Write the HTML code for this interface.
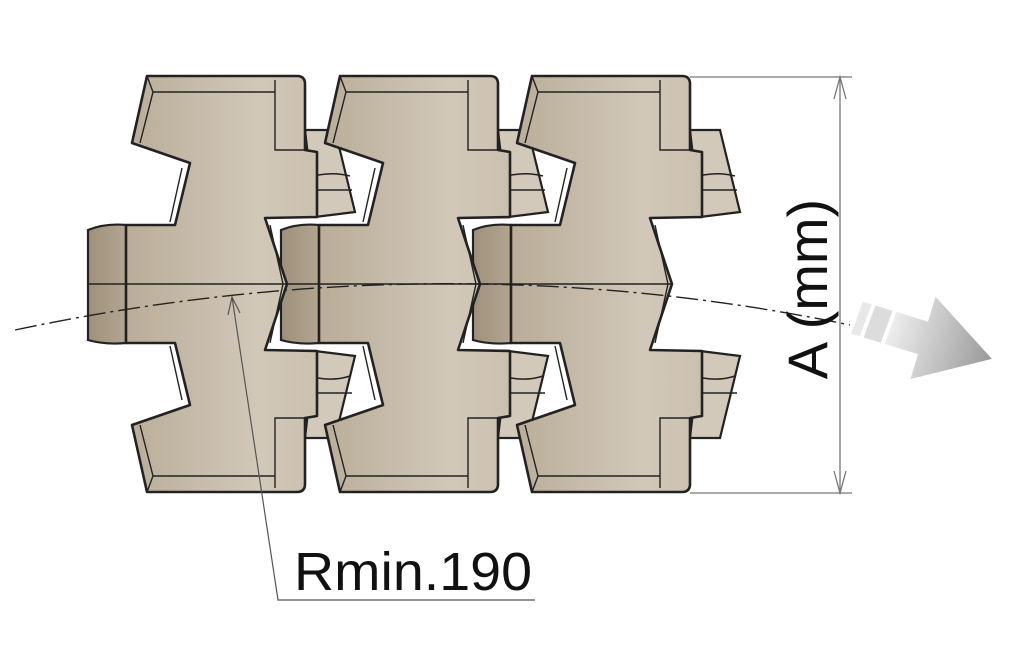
<!DOCTYPE html>
<html><head><meta charset="utf-8"><style>
html,body{margin:0;padding:0;background:#fff;width:1024px;height:653px;overflow:hidden}
</style></head><body>
<svg width="1024" height="653" viewBox="0 0 1024 653" xmlns="http://www.w3.org/2000/svg">
<defs>
<linearGradient id="g" x1="0" y1="0" x2="1" y2="0">
<stop offset="0" stop-color="#b9ad98"/><stop offset="0.7" stop-color="#d2c8b9"/><stop offset="1" stop-color="#cbc0ae"/>
</linearGradient>
<linearGradient id="sg" x1="0" y1="0" x2="1" y2="0">
<stop offset="0" stop-color="#9e907a"/><stop offset="1" stop-color="#b3a690"/>
</linearGradient>
<linearGradient id="ag" x1="0" y1="0" x2="1" y2="0">
<stop offset="0" stop-color="#eeeeee"/><stop offset="1" stop-color="#999"/>
</linearGradient>
<g id="stub">
<path d="M88,230 Q105,223 126,225 L126,343 Q105,345 88,340 Z" fill="url(#sg)" stroke="#222" stroke-width="2.2"/>
<line x1="88" y1="284" x2="126" y2="284" stroke="#222" stroke-width="1.5"/>
</g>
<g id="link">
<path d="M305,130 L335,130 L355,212 L315,217 Z M305,438 L335,438 L355,356 L315,351 Z" fill="#d3c9ba" stroke="#222" stroke-width="2.2"/>
<path d="M318,175 Q335,172 350,176 M318,190 L352,190 M318,393 L352,393 M318,378 Q335,381 350,376" fill="none" stroke="#222" stroke-width="1.5"/>
<path d="M147,76 L297,76 Q305,76 305,84 L305,150 L317,152 L317,217 L265,218 L287,284 L265,350 L317,351 L317,416 L305,418 L305,484 Q305,492 297,492 L147,492 L132,425 L190,405 L175,343 L126,343 L126,225 L175,225 L190,163 L132,143 Z" fill="url(#g)" stroke="#222" stroke-width="2.6" stroke-linejoin="round"/>
<path d="M153,92 L275,92 M153,476 L275,476 M275,80 L275,150 L305,150 M275,488 L275,418 L305,418 M147,76 L153,92 L140,143 M147,492 L153,476 L140,425 M126,284 L287,284 M182,168 L170,222 M182,400 L170,346 M270,225 L283,284 L270,343" fill="none" stroke="#222" stroke-width="1.4"/>
</g>
</defs>
<use href="#stub"/>
<use href="#stub" x="193"/>
<use href="#stub" x="385"/>
<use href="#link"/>
<use href="#link" x="193"/>
<use href="#link" x="385"/>
<path d="M15,330 Q440,240 850,325" fill="none" stroke="#222" stroke-width="1.4" stroke-dasharray="22,5,3,5"/>
<g stroke="#777" stroke-width="1.3" fill="none">
<line x1="690" y1="77" x2="852" y2="77"/>
<line x1="690" y1="493" x2="852" y2="493"/>
<line x1="840" y1="77" x2="840" y2="493"/>
<path d="M834,99 L840,77 L846,99 M834,471 L840,493 L846,471"/>
</g>
<text transform="translate(827,289) rotate(-90)" text-anchor="middle" font-family="Liberation Sans, sans-serif" font-size="56" fill="#111">A (mm)</text>
<g transform="translate(858,318) rotate(17)">
<polygon points="0,-17 9,-17 7,17 -2,17" fill="#e8e8e8"/>
<polygon points="13,-17 31,-17 29,17 11,17" fill="#dcdcdc"/>
<polygon points="35,-17 68,-17 68,-43 140,0 68,43 68,17 33,17" fill="url(#ag)"/>
</g>
<path d="M232,297 L278,600 L535,600" fill="none" stroke="#555" stroke-width="1.2"/>
<path d="M228,315 L232,297 L240,313" fill="none" stroke="#555" stroke-width="1.2"/>
<text x="294" y="590" font-family="Liberation Sans, sans-serif" font-size="54" fill="#111" textLength="238" lengthAdjust="spacingAndGlyphs">Rmin.190</text>
</svg>
</body></html>
